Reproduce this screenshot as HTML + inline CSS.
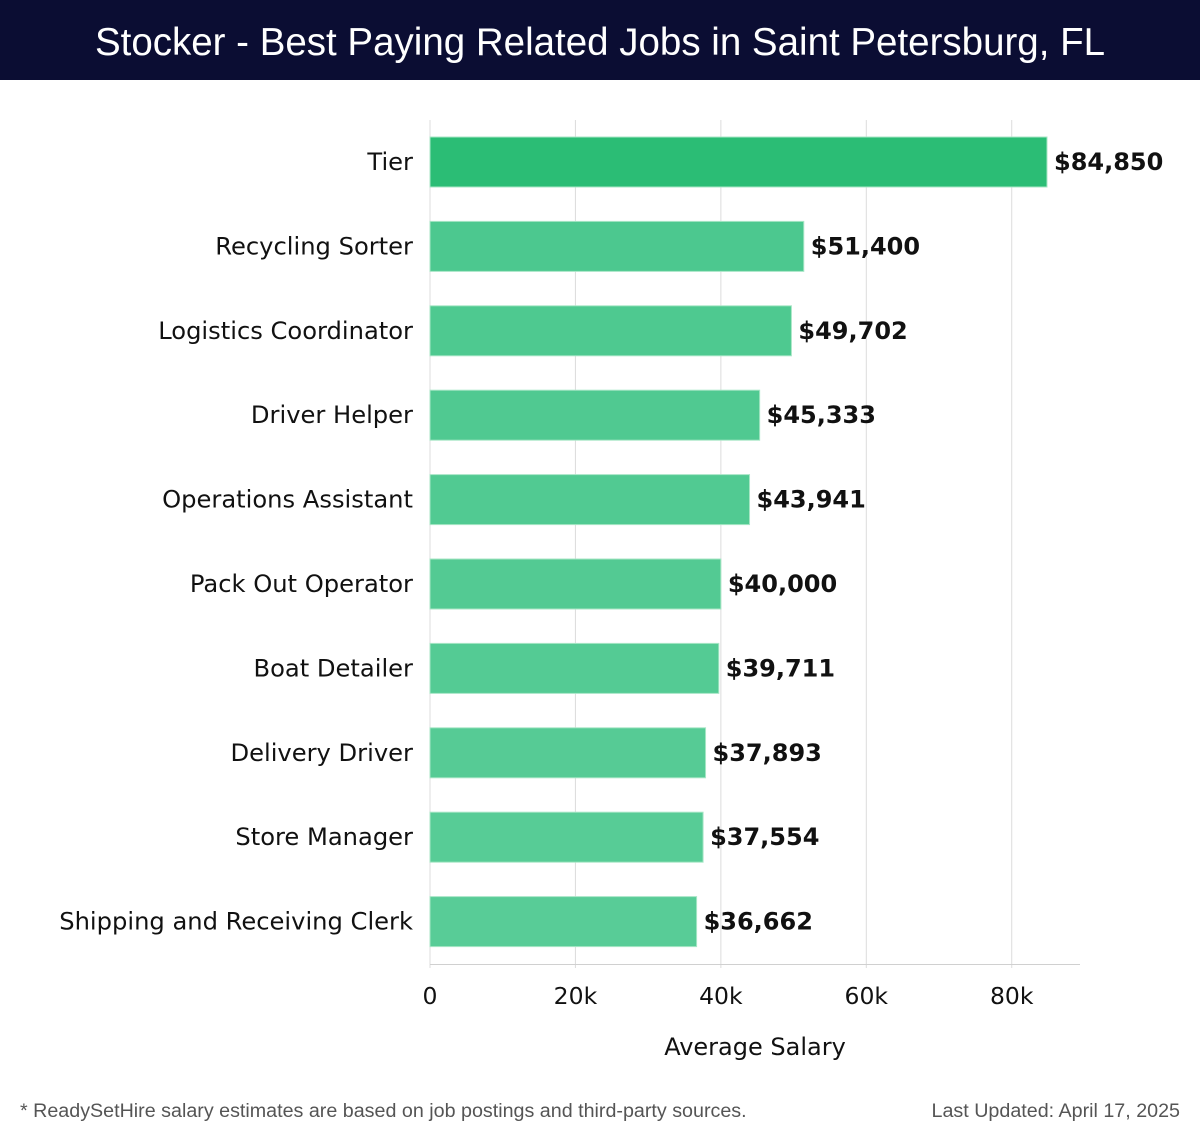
<!DOCTYPE html>
<html><head><meta charset="utf-8"><style>
body{margin:0;width:1200px;height:1140px;background:#fff;font-family:"DejaVu Sans","Liberation Sans",sans-serif;overflow:hidden;position:relative}
#title{position:absolute;left:0;top:0;width:1200px;height:80px;background:#0b0d33;color:#fff;font-size:38.5px;text-align:center;line-height:86px;font-family:"Liberation Sans","DejaVu Sans",sans-serif}
.foot{position:absolute;top:1100px;font-size:19.7px;color:#555;font-family:"Liberation Sans",sans-serif}
</style></head><body>
<div id="title">Stocker - Best Paying Related Jobs in Saint Petersburg, FL</div>
<svg id="chart" width="1200" height="1140" style="position:absolute;left:0;top:0"></svg>
<div class="foot" style="left:20px">* ReadySetHire salary estimates are based on job postings and third-party sources.</div>
<div class="foot" style="right:20px">Last Updated: April 17, 2025</div>
<script>
const categories=["Tier","Recycling Sorter","Logistics Coordinator","Driver Helper","Operations Assistant","Pack Out Operator","Boat Detailer","Delivery Driver","Store Manager","Shipping and Receiving Clerk"];
const values=[84850,51400,49702,45333,43941,40000,39711,37893,37554,36662];
const valueLabels=["$84,850","$51,400","$49,702","$45,333","$43,941","$40,000","$39,711","$37,893","$37,554","$36,662"];
const ticks=[0,20000,40000,60000,80000];
const tickLabels=["0","20k","40k","60k","80k"];
const NS="http://www.w3.org/2000/svg";
const svg=document.getElementById('chart');
const x=v=>430+v*(617/84850);
const yc=i=>162+i*84.4;
function mk(t,a,txt){const e=document.createElementNS(NS,t);for(const k in a)e.setAttribute(k,a[k]);if(txt!=null)e.textContent=txt;svg.appendChild(e);return e;}
ticks.forEach((t,i)=>{
  const g=mk('line',{x1:x(t),x2:x(t),y1:120,y2:968,stroke:'#dcdcdc','stroke-width':1});
  
  
  const l=mk('text',{x:x(t),y:1004,'text-anchor':'middle','font-size':23.5,fill:'#111'},tickLabels[i]);
  
  
});
const ax=mk('line',{x1:430,x2:1080,y1:964.5,y2:964.5,stroke:'#d0d0d0','stroke-width':1});


const at=mk('text',{x:755,y:1055,'text-anchor':'middle','font-size':24,fill:'#111'},'Average Salary');


const colors=["#2bbd75","#4cc88f","#4ec990","#50c991","#51ca92","#53ca93","#54cb94","#56cb95","#57cc96","#58cc97"];
categories.forEach((c,i)=>{
  const r=mk('rect',{x:430,y:yc(i)-25,width:x(values[i])-430,height:50,fill:colors[i],stroke:'#a8e6c6','stroke-width':1});
  
  
  const l=mk('text',{x:413,y:yc(i)+8,'text-anchor':'end','font-size':24.2,fill:'#111'},c);
  
  
  const v=mk('text',{x:x(values[i])+7,y:yc(i)+8,'font-size':24,'font-weight':'bold',fill:'#111'},valueLabels[i]);
  
  
});
</script>
</body></html>
